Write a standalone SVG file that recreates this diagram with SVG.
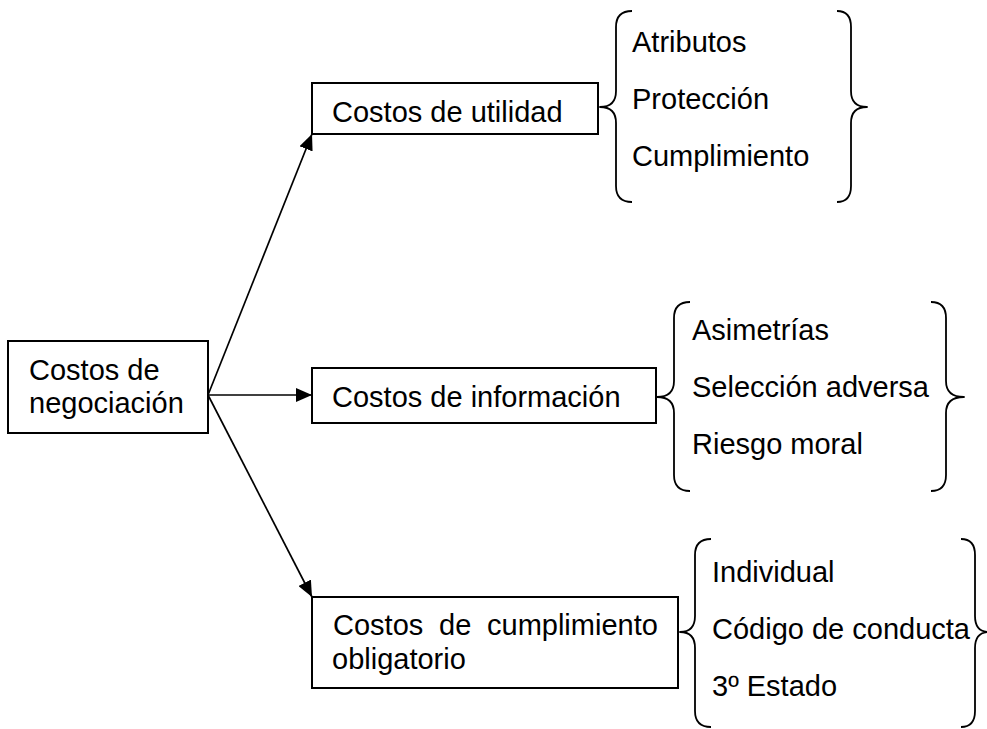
<svg xmlns="http://www.w3.org/2000/svg" width="987" height="729" viewBox="0 0 987 729">
<style>
.box{fill:#fff;stroke:#000;stroke-width:2}
.t{font-family:"Liberation Sans",Arial,sans-serif;font-size:29px;fill:#000}
.br{fill:none;stroke:#000;stroke-width:1.8;stroke-linejoin:round}
.ln{stroke:#000;stroke-width:1.7;fill:none}
</style>
<defs>
<marker id="ah" viewBox="0 0 16 14" refX="16" refY="7" markerWidth="16" markerHeight="14" markerUnits="userSpaceOnUse" orient="auto">
<path d="M0,0 L16,7 L0,14 Z" fill="#000"/>
</marker>
</defs>
<rect width="987" height="729" fill="#fff"/>
<g id="connectors">
<line class="ln" x1="208" y1="395" x2="312" y2="134" marker-end="url(#ah)"/>
<line class="ln" x1="208" y1="395" x2="312" y2="395" marker-end="url(#ah)"/>
<line class="ln" x1="208" y1="395" x2="312" y2="597" marker-end="url(#ah)"/>
</g>
<g id="negociacion">
<rect class="box" x="8" y="341" width="200" height="92"/>
<text class="t" x="29" y="380">Costos de</text>
<text class="t" x="29" y="413">negociación</text>
</g>
<g id="utilidad">
<rect class="box" x="312" y="83" width="286" height="51"/>
<text class="t" x="332" y="122">Costos de utilidad</text>
</g>
<g id="informacion">
<rect class="box" x="312" y="368" width="344" height="55"/>
<text class="t" x="332" y="407">Costos de información</text>
</g>
<g id="cumplimiento">
<rect class="box" x="312" y="597" width="366" height="91"/>
<text class="t" y="635"><tspan x="333">Costos</tspan><tspan x="439">de</tspan><tspan x="487">cumplimiento</tspan></text>
<text class="t" x="332" y="669">obligatorio</text>
</g>
<g id="utilidad-items">
<path class="br" d="M632,11 Q616,11 616,27 L616,91 Q616,107 600,107 Q616,107 616,123 L616,186 Q616,202 632,202"/>
<path class="br" d="M837,11 Q851,11 851,27 L851,91 Q851,107 867,107 Q851,107 851,123 L851,186 Q851,202 837,202"/>
<text class="t" x="632" y="52">Atributos</text>
<text class="t" x="632" y="109">Protección</text>
<text class="t" x="632" y="166">Cumplimiento</text>
</g>
<g id="informacion-items">
<path class="br" d="M690,302 Q674,302 674,318 L674,381 Q674,397 657,397 Q674,397 674,413 L674,475 Q674,491 690,491"/>
<path class="br" d="M931,302 Q946,302 946,318 L946,381 Q946,397 964,397 Q946,397 946,413 L946,475 Q946,491 931,491"/>
<text class="t" x="692" y="340">Asimetrías</text>
<text class="t" x="692" y="397">Selección adversa</text>
<text class="t" x="692" y="454">Riesgo moral</text>
</g>
<g id="cumplimiento-items">
<path class="br" d="M711,539 Q695,539 695,555 L695,616 Q695,632 680,632 Q695,632 695,648 L695,711 Q695,727 711,727"/>
<path class="br" d="M961,539 Q975,539 975,555 L975,616 Q975,632 989,632 Q975,632 975,648 L975,711 Q975,727 961,727"/>
<text class="t" x="712" y="582">Individual</text>
<text class="t" x="712" y="639">Código de conducta</text>
<text class="t" x="712" y="696">3º Estado</text>
</g>
</svg>
